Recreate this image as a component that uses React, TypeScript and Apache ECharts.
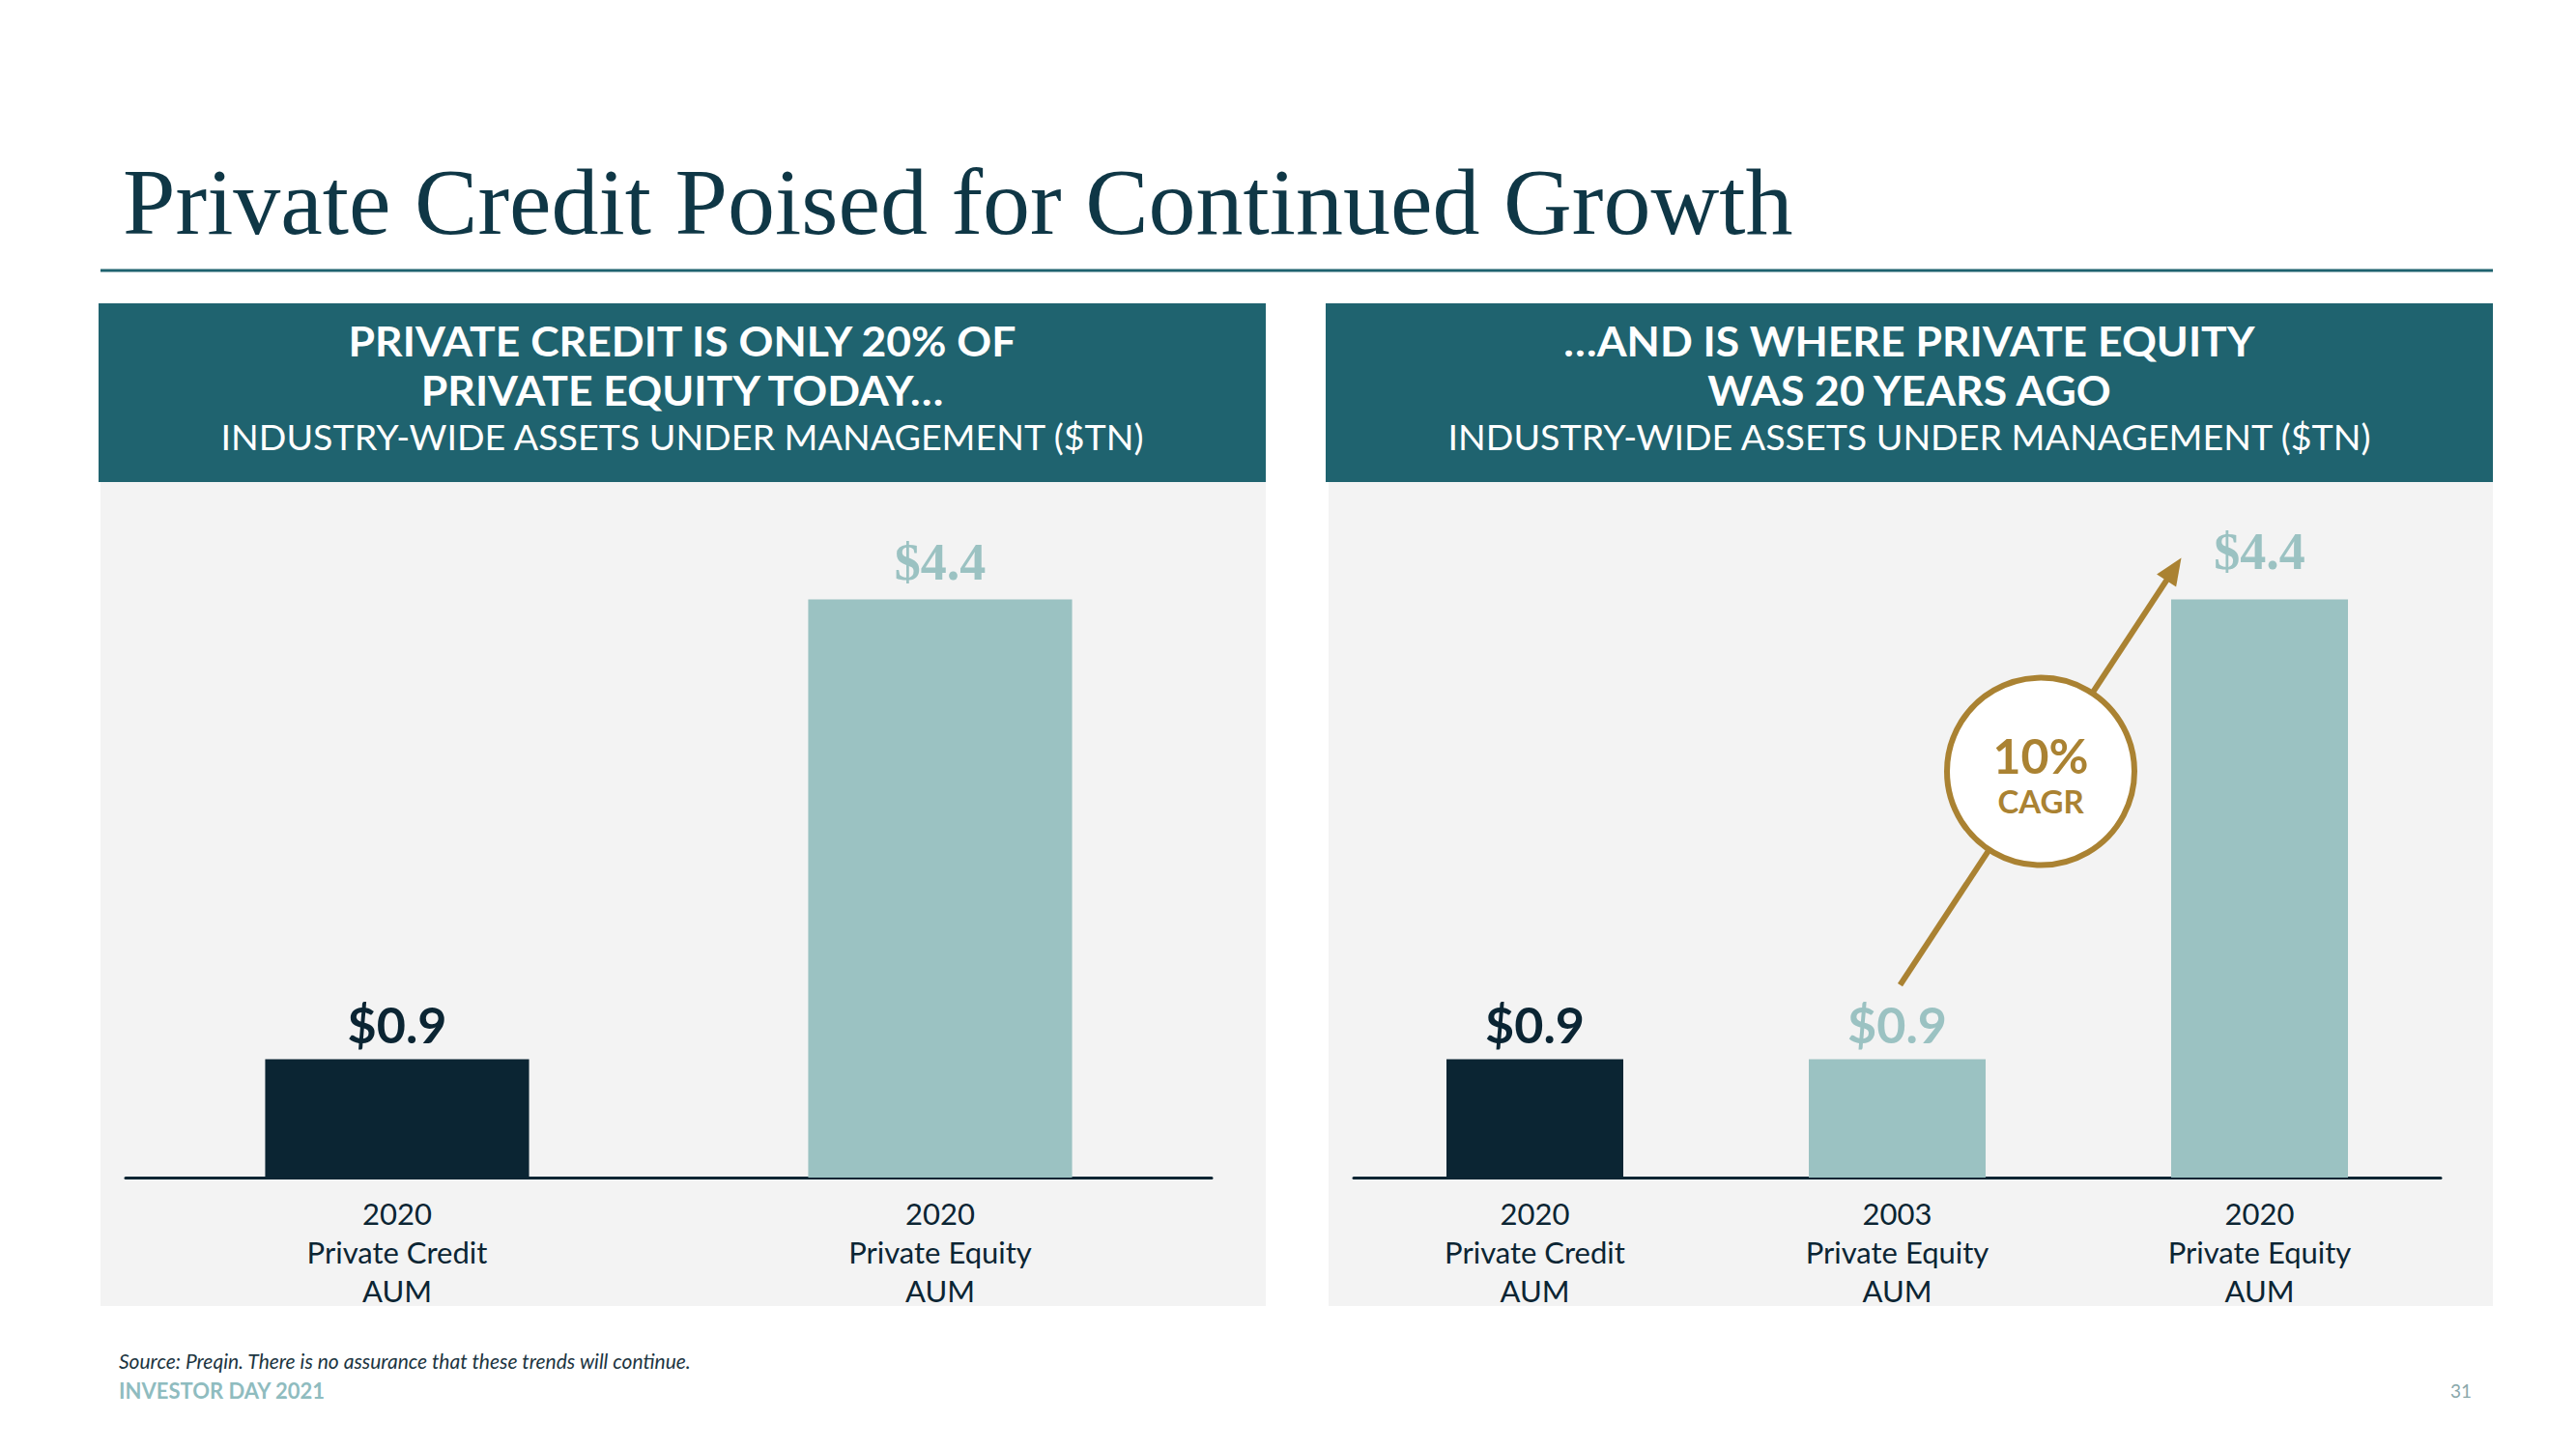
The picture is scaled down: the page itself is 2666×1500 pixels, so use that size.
import React, { useEffect, useRef } from "react";
import * as echarts from "echarts";

// ---- data ----
const leftYears = ["2020", "2020"];
const leftNames = ["Private Credit", "Private Equity"];
const leftValues = [0.9, 4.4];

const rightYears = ["2020", "2003", "2020"];
const rightNames = ["Private Credit", "Private Equity", "Private Equity"];
const rightValues = [0.9, 0.9, 4.4];

const cagrText = "10%";

// ---- styles ----
const DARK = "#0b2533";
const LIGHT = "#9bc2c2";
const TEAL = "#1f636f";
const GOLD = "#aa8232";
const PANEL = "#f3f3f3";
const SANS = "Lato, 'Noto Sans', sans-serif";
const SERIF = "'Liberation Serif', 'DejaVu Serif', serif";

const leftColors = [DARK, LIGHT];
const rightColors = [DARK, LIGHT, LIGHT];

function buildData(values: number[], colors: string[], dist: number[]) {
  return values.map((v, i) => {
    const big = v >= 4;
    return {
      value: v,
      itemStyle: { color: colors[i] },
      label: {
        color: colors[i],
        fontFamily: big ? SERIF : SANS,
        fontSize: big ? 54 : 52,
        fontWeight: "bold",
        distance: dist[i],
      },
    };
  });
}

export default function App() {
  const ref = useRef<HTMLDivElement>(null);

  useEffect(() => {
    document.body.style.margin = "0";
    const chart = echarts.init(ref.current!, null, {
      renderer: "svg",
      width: 2666,
      height: 1500,
    });

    const cat = (years: string[], names: string[]) =>
      years.map((y, i) => `${y}\n${names[i]}\nAUM`);

    const xAxisCommon = {
      type: "category" as const,
      axisLine: { lineStyle: { color: DARK, width: 3 } },
      axisTick: { show: false },
      axisLabel: {
        color: DARK,
        fontFamily: SANS,
        fontSize: 31,
        lineHeight: 40,
        margin: 17,
        interval: 0,
      },
    };
    const yAxisCommon = {
      type: "value" as const,
      min: 0,
      max: 5,
      show: false,
      splitLine: { show: false },
    };
    const labelCommon = {
      show: true,
      position: "top" as const,
      formatter: (p: any) => "$" + Number(p.value).toFixed(1),
    };

    const staticGraphics: any[] = [
      // title
      {
        type: "text",
        left: 127,
        top: 160,
        style: {
          text: "Private Credit Poised for Continued Growth",
          fontFamily: SERIF,
          fontSize: 98,
          fill: "#0f3746",
        },
      },
      {
        type: "line",
        shape: { x1: 104, y1: 280, x2: 2580, y2: 280 },
        style: { stroke: TEAL, lineWidth: 3 },
      },
      // panels
      { type: "rect", shape: { x: 104, y: 499, width: 1206, height: 853 }, style: { fill: PANEL }, z: -10 },
      { type: "rect", shape: { x: 1375, y: 499, width: 1205, height: 853 }, style: { fill: PANEL }, z: -10 },
      { type: "rect", shape: { x: 102, y: 314, width: 1208, height: 185 }, style: { fill: TEAL }, z: -9 },
      { type: "rect", shape: { x: 1372, y: 314, width: 1208, height: 185 }, style: { fill: TEAL }, z: -9 },
    ];

    const headerText = (cx: number, lines: string[]) => [
      {
        type: "text",
        x: cx,
        y: 353,
        scaleX: 1.06,
        style: { text: lines[0], fill: "#fff", fontFamily: SANS, fontWeight: "bold", fontSize: 42, lineHeight: 42, align: "center", verticalAlign: "middle" },
      },
      {
        type: "text",
        x: cx,
        y: 404,
        scaleX: 1.06,
        style: { text: lines[1], fill: "#fff", fontFamily: SANS, fontWeight: "bold", fontSize: 42, lineHeight: 42, align: "center", verticalAlign: "middle" },
      },
      {
        type: "text",
        x: cx,
        y: 452,
        scaleX: 1.045,
        style: { text: lines[2], fill: "#fff", fontFamily: SANS, fontSize: 36, lineHeight: 36, align: "center", verticalAlign: "middle" },
      },
    ];

    staticGraphics.push(
      ...headerText(706, ["PRIVATE CREDIT IS ONLY 20% OF", "PRIVATE EQUITY TODAY…", "INDUSTRY-WIDE ASSETS UNDER MANAGEMENT ($TN)"]),
      ...headerText(1976, ["…AND IS WHERE PRIVATE EQUITY", "WAS 20 YEARS AGO", "INDUSTRY-WIDE ASSETS UNDER MANAGEMENT ($TN)"])
    );

    staticGraphics.push(
      {
        type: "text",
        x: 123,
        y: 1408,
        style: {
          text: "Source: Preqin. There is no assurance that these trends will continue.",
          fontFamily: SANS,
          fontStyle: "italic",
          fontSize: 21,
          lineHeight: 24,
          fill: "#1c3541",
          verticalAlign: "middle",
        },
      },
      {
        type: "text",
        x: 123,
        y: 1439,
        style: {
          text: "INVESTOR DAY 2021",
          fontFamily: SANS,
          fontWeight: "bold",
          fontSize: 22,
          lineHeight: 24,
          fill: "#8fbcbf",
          verticalAlign: "middle",
        },
      },
      {
        type: "text",
        x: 2558,
        y: 1439,
        style: {
          text: "31",
          fontFamily: SANS,
          fontSize: 19,
          fill: "#8aa8ab",
          align: "right",
          verticalAlign: "middle",
        },
      }
    );

    const option: any = {
      animation: false,
      backgroundColor: "#ffffff",
      grid: [
        { left: 130, right: 2666 - 1254, top: 539, bottom: 1500 - 1219, containLabel: false },
        { left: 1401, right: 2666 - 2526, top: 539, bottom: 1500 - 1219, containLabel: false },
      ],
      xAxis: [
        { ...xAxisCommon, gridIndex: 0, data: cat(leftYears, leftNames) },
        { ...xAxisCommon, gridIndex: 1, data: cat(rightYears, rightNames) },
      ],
      yAxis: [
        { ...yAxisCommon, gridIndex: 0 },
        { ...yAxisCommon, gridIndex: 1 },
      ],
      series: [
        {
          type: "bar",
          xAxisIndex: 0,
          yAxisIndex: 0,
          barWidth: "48.6%",
          label: labelCommon,
          data: buildData(leftValues, leftColors, [11, 12]),
        },
        {
          type: "bar",
          xAxisIndex: 1,
          yAxisIndex: 1,
          barWidth: "48.8%",
          label: labelCommon,
          data: buildData(rightValues, rightColors, [11, 11, 23]),
        },
      ],
      graphic: staticGraphics,
    };

    chart.setOption(option);

    // Annotation anchored to the data: arrow from 2003 PE label to 2020 PE label
    const start = chart.convertToPixel({ xAxisIndex: 1, yAxisIndex: 1 }, [1, rightValues[1]]) as number[];
    const end = chart.convertToPixel({ xAxisIndex: 1, yAxisIndex: 1 }, [2, rightValues[2]]) as number[];
    const sx = start[0] + 3;
    const sy = start[1] - 77;
    const ex = end[0] - 81;
    const ey = end[1] - 43;
    const dx = ex - sx;
    const dy = ey - sy;
    const len = Math.sqrt(dx * dx + dy * dy);
    const ux = dx / len;
    const uy = dy / len;
    const px = -uy;
    const py = ux;
    const headLen = 28;
    const headHalf = 12;
    const bx = ex - ux * headLen;
    const by = ey - uy * headLen;
    const cx = (sx + ex) / 2;
    const cy = (sy + ey) / 2;

    const annot: any[] = [
      {
        type: "line",
        z: 20,
        shape: { x1: sx, y1: sy, x2: bx + ux * 4, y2: by + uy * 4 },
        style: { stroke: GOLD, lineWidth: 6 },
      },
      {
        type: "polygon",
        z: 20,
        shape: {
          points: [
            [ex, ey],
            [bx + px * headHalf, by + py * headHalf],
            [bx - px * headHalf, by - py * headHalf],
          ],
        },
        style: { fill: GOLD },
      },
      {
        type: "circle",
        z: 21,
        shape: { cx, cy, r: 97 },
        style: { fill: "#ffffff", stroke: GOLD, lineWidth: 6 },
      },
      {
        type: "text",
        z: 22,
        x: cx,
        y: cy - 17,
        style: { text: cagrText, fill: GOLD, fontFamily: SANS, fontWeight: "bold", fontSize: 50, lineHeight: 50, align: "center", verticalAlign: "middle" },
      },
      {
        type: "text",
        z: 22,
        x: cx,
        y: cy + 30,
        style: { text: "CAGR", fill: GOLD, fontFamily: SANS, fontWeight: "bold", fontSize: 33, lineHeight: 36, align: "center", verticalAlign: "middle" },
      },
    ];

    chart.setOption({ graphic: [...staticGraphics, ...annot] });

    return () => chart.dispose();
  }, []);

  return (
    <div
      ref={ref}
      style={{ position: "absolute", left: 0, top: 0, width: 2666, height: 1500, background: "#fff" }}
    />
  );
}
